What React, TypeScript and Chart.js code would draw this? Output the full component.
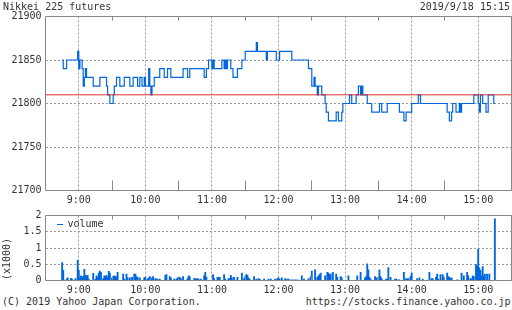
import { useEffect, useRef } from "react";
import { Chart, registerables } from "chart.js";

Chart.register(...registerables);

const FONT = '"DejaVu Sans Mono", monospace';
const TEXT_COLOR = "#333333";
const GRID_COLOR = "#999999";
const FRAME_COLOR = "#888888";
const LINE_COLOR = "#0066dd";
const PREV_COLOR = "#dd3333";

const TITLE = "Nikkei 225 futures";
const DATE_LABEL = "2019/9/18 15:15";
const COPYRIGHT = "(C) 2019 Yahoo Japan Corporation.";
const SITE_URL = "https://stocks.finance.yahoo.co.jp";
const VOLUME_UNIT = "(x1000)";
const VOLUME_LEGEND = "volume";

const X_MIN = "8:30";
const X_MAX = "15:30";
const HOUR_TICKS = ["9:00", "10:00", "11:00", "12:00", "13:00", "14:00", "15:00"];
const HALF_TICKS = ["9:30", "10:30", "11:30", "12:30", "13:30", "14:30"];
const PRICE_TICKS = [21700, 21750, 21800, 21850, 21900];
const VOLUME_TICKS = [0, 0.5, 1, 1.5, 2];
const PREV_CLOSE = 21810;

// price change points (value holds until the next time)
const priceTimes = [
  "8:45", "8:46", "8:49", "8:59", "9:00", "9:01", "9:03", "9:04", "9:05", "9:06",
  "9:07", "9:13", "9:19", "9:25", "9:26", "9:28", "9:31", "9:32", "9:34", "9:37",
  "9:41", "9:46", "9:49", "9:53", "9:55", "9:57", "9:59", "10:00", "10:03", "10:04",
  "10:05", "10:06", "10:08", "10:13", "10:17", "10:20", "10:23", "10:34", "10:38", "10:40",
  "10:53", "10:55", "10:57", "11:00", "11:01", "11:02", "11:09", "11:11", "11:12", "11:13",
  "11:14", "11:17", "11:19", "11:23", "11:27", "11:30", "11:40", "11:41", "11:49", "11:50",
  "11:58", "12:01", "12:12", "12:27", "12:30", "12:32", "12:33", "12:35", "12:36", "12:39",
  "12:42", "12:43", "12:45", "12:52", "12:54", "12:57", "12:58", "13:04", "13:06", "13:10",
  "13:12", "13:14", "13:15", "13:16", "13:20", "13:24", "13:31", "13:33", "13:38", "13:49",
  "13:53", "13:55", "14:00", "14:06", "14:08", "14:32", "14:34", "14:36", "14:37", "14:40",
  "14:43", "14:44", "14:45", "14:56", "15:00", "15:01", "15:02", "15:04", "15:07", "15:09",
  "15:14", "15:15",
];
const priceValues = [
  21850, 21840, 21850, 21860, 21840, 21850, 21840, 21820, 21830, 21840,
  21830, 21820, 21830, 21820, 21810, 21800, 21810, 21820, 21830, 21820,
  21830, 21820, 21830, 21820, 21830, 21820, 21830, 21820, 21840, 21820,
  21810, 21820, 21830, 21840, 21830, 21840, 21830, 21840, 21830, 21840,
  21830, 21840, 21850, 21840, 21850, 21840, 21850, 21840, 21850, 21840,
  21850, 21840, 21830, 21840, 21850, 21860, 21870, 21860, 21850, 21860,
  21850, 21860, 21850, 21840, 21820, 21830, 21820, 21810, 21820, 21810,
  21800, 21790, 21780, 21790, 21780, 21790, 21800, 21810, 21800, 21810,
  21820, 21810, 21820, 21810, 21800, 21790, 21800, 21790, 21800, 21790,
  21780, 21790, 21800, 21810, 21800, 21790, 21780, 21790, 21800, 21790,
  21800, 21790, 21800, 21810, 21800, 21790, 21810, 21800, 21790, 21810,
  21800, 21800,
];

// volume per minute (x1000), starting 8:45
const VOLUME_START = "8:45";
const volumes = [
  0.55, 0.31, 0, 0, 0.04, 0.08, 0, 0, 0.07, 0.04, 0, 0, 0.06, 0, 0.62,
  0.31, 0.08, 0.14, 0.1, 0.13, 0.34, 0.16, 0.14, 0.16, 0.04, 0, 0, 0, 0.22, 0,
  0.04, 0.14, 0.1, 0.23, 0.29, 0.25, 0, 0.06, 0.14, 0.12, 0.16, 0.1, 0.28, 0.23, 0,
  0.08, 0.12, 0.14, 0.12, 0.12, 0.25, 0, 0, 0, 0, 0.2, 0.04, 0, 0.2, 0.08,
  0, 0.08, 0, 0.1, 0, 0.2, 0.2, 0.12, 0.1, 0, 0.08, 0, 0, 0, 0.08,
  0.1, 0, 0.04, 0.08, 0.12, 0, 0.08, 0.12, 0, 0.06, 0.04, 0.04, 0, 0.04, 0,
  0, 0, 0, 0.16, 0.18, 0, 0, 0.12, 0.08, 0, 0, 0.04, 0, 0.04, 0.08,
  0.06, 0.1, 0.06, 0, 0.12, 0, 0, 0, 0.06, 0.14, 0.12, 0, 0, 0, 0.06,
  0.06, 0.04, 0.06, 0.04, 0, 0.04, 0, 0, 0.14, 0.25, 0.1, 0, 0, 0, 0,
  0, 0.18, 0.06, 0, 0, 0.1, 0.1, 0.1, 0, 0, 0, 0.18, 0.04, 0, 0,
  0.06, 0.06, 0.16, 0.08, 0, 0.1, 0, 0, 0.1, 0, 0, 0, 0.23, 0, 0.06,
  0.12, 0.18, 0.16, 0.08, 0.04, 0, 0, 0, 0.12, 0, 0.04, 0, 0.06, 0.04, 0,
  0, 0, 0.04, 0, 0, 0, 0.04, 0, 0.04, 0, 0, 0, 0.04, 0, 0.06,
  0.08, 0.04, 0, 0.08, 0, 0, 0.06, 0, 0.04, 0.04, 0, 0.02, 0, 0.02, 0,
  0.02, 0, 0.02, 0, 0, 0, 0.14, 0, 0.04, 0, 0, 0, 0.06, 0, 0.12,
  0.29, 0, 0, 0.33, 0, 0.1, 0.14, 0.18, 0.23, 0, 0, 0, 0.14, 0, 0.25,
  0.23, 0.18, 0.2, 0, 0.25, 0, 0, 0.2, 0.1, 0, 0, 0.12, 0.08, 0, 0,
  0, 0, 0, 0.14, 0, 0, 0, 0, 0, 0, 0, 0.14, 0, 0, 0.25,
  0, 0, 0, 0.08, 0.12, 0.51, 0.33, 0.1, 0.04, 0, 0, 0, 0.12, 0.08, 0,
  0.1, 0.33, 0.12, 0.06, 0, 0, 0, 0.04, 0.04, 0.4, 0, 0.1, 0, 0, 0,
  0.04, 0.04, 0, 0.02, 0.02, 0, 0, 0, 0.25, 0, 0.06, 0.04, 0.06, 0, 0.12,
  0.23, 0, 0, 0, 0, 0.06, 0, 0.08, 0, 0, 0.04, 0, 0, 0, 0,
  0, 0.25, 0, 0.06, 0.06, 0, 0, 0.1, 0.2, 0.04, 0, 0.18, 0, 0.18, 0.08,
  0, 0, 0.23, 0.12, 0.1, 0.06, 0.08, 0, 0, 0, 0, 0.02, 0, 0, 0,
  0.23, 0, 0.14, 0, 0, 0.25, 0.14, 0, 0.06, 0.04, 0.14, 0.12, 0, 0.49, 0.43,
  0.97, 0.39, 0.31, 0.14, 0.43, 0.14, 0.2, 0, 0.2, 0, 0.2, 0, 0, 0, 0,
  1.9,
];

const toMin = (s: string) => {
  const [h, m] = s.split(":").map(Number);
  return h * 60 + m;
};
const fmtMin = (v: number) => {
  const h = Math.floor(v / 60);
  const m = Math.round(v - h * 60);
  return `${h}:${m < 10 ? "0" : ""}${m}`;
};

const framePlugin = (topTick: number, bottomTick: number) => ({
  id: "frame",
  afterDraw(chart: any) {
    const { ctx, chartArea: a, scales } = chart;
    const al = (p: number) => Math.round(p - 0.5) + 0.5;
    ctx.save();
    ctx.strokeStyle = FRAME_COLOR;
    ctx.lineWidth = 1;
    ctx.setLineDash([]);
    ctx.beginPath();
    const l = al(a.left), r = al(a.right), t = al(a.top), b = al(a.bottom);
    ctx.rect(l, t, r - l, b - t);
    for (const h of HALF_TICKS) {
      const x = al(scales.x.getPixelForValue(toMin(h)));
      ctx.moveTo(x, t);
      ctx.lineTo(x, t + topTick);
      ctx.moveTo(x, b);
      ctx.lineTo(x, b - bottomTick);
    }
    ctx.stroke();
    ctx.restore();
  },
});

const tickFont = { family: FONT, size: 10 };

const xScale = (height: number) => ({
  type: "linear" as const,
  min: toMin(X_MIN),
  max: toMin(X_MAX),
  offset: false,
  afterBuildTicks: (s: any) => {
    s.ticks = HOUR_TICKS.map((t) => ({ value: toMin(t) }));
  },
  afterFit: (s: any) => {
    s.height = height;
    s.paddingLeft = 0;
    s.paddingRight = 0;
    s.paddingTop = 0;
    s.paddingBottom = 0;
  },
  ticks: {
    callback: (v: any) => fmtMin(Number(v)),
    font: tickFont,
    color: TEXT_COLOR,
    padding: 4,
    maxRotation: 0,
    autoSkip: false,
  },
  grid: { color: GRID_COLOR, lineWidth: 1, drawTicks: false, offset: false },
  border: { display: false, dash: [2, 2] },
});

const yScale = (min: number, max: number, ticks: number[], fmt: (v: number) => string) => ({
  min,
  max,
  afterBuildTicks: (s: any) => {
    s.ticks = ticks.map((v) => ({ value: v }));
  },
  afterFit: (s: any) => {
    s.width = 45.5;
    s.paddingLeft = 0;
    s.paddingRight = 0;
    s.paddingTop = 0;
    s.paddingBottom = 0;
  },
  ticks: {
    callback: (v: any) => fmt(Number(v)),
    font: tickFont,
    color: TEXT_COLOR,
    padding: 4,
    autoSkip: false,
  },
  grid: { color: GRID_COLOR, lineWidth: 1, drawTicks: false },
  border: { display: false, dash: [2, 2] },
});

export default function App() {
  const priceRef = useRef<HTMLCanvasElement>(null);
  const volRef = useRef<HTMLCanvasElement>(null);

  useEffect(() => {
    if (!priceRef.current || !volRef.current) return;
    const priceChart = new Chart(priceRef.current, {
      type: "line",
      data: {
        datasets: [
          {
            data: [
              { x: toMin(X_MIN), y: PREV_CLOSE },
              { x: toMin(X_MAX), y: PREV_CLOSE },
            ],
            borderColor: PREV_COLOR,
            borderWidth: 1,
            pointRadius: 0,
          },
          {
            data: priceTimes.map((t, i) => ({ x: toMin(t), y: priceValues[i] })),
            borderColor: LINE_COLOR,
            borderWidth: 1.2,
            pointRadius: 0,
            stepped: true,
          },
        ],
      },
      options: {
        animation: false,
        responsive: false,
        devicePixelRatio: 1,
        events: [],
        layout: { padding: { top: 16.5, right: 0.5, left: 0, bottom: 0 } },
        plugins: { legend: { display: false }, tooltip: { enabled: false } },
        scales: {
          x: xScale(19.5) as any,
          y: yScale(21700, 21900, PRICE_TICKS, (v) => String(v)) as any,
        },
      },
      plugins: [framePlugin(4, 10)],
    });

    const start = toMin(VOLUME_START);
    const volChart = new Chart(volRef.current, {
      type: "bar",
      data: {
        datasets: [
          {
            data: volumes.map((v, i) => ({ x: start + i, y: v })),
            backgroundColor: LINE_COLOR,
            borderWidth: 0,
            barThickness: 1.2,
          },
        ],
      },
      options: {
        animation: false,
        responsive: false,
        devicePixelRatio: 1,
        events: [],
        layout: { padding: { top: 5.5, right: 0.5, left: 0, bottom: 0 } },
        plugins: { legend: { display: false }, tooltip: { enabled: false } },
        scales: {
          x: xScale(15.5) as any,
          y: yScale(0, 2, VOLUME_TICKS, (v) => String(v)) as any,
        },
      },
      plugins: [framePlugin(4, 4)],
    });

    return () => {
      priceChart.destroy();
      volChart.destroy();
    };
  }, []);

  const text: React.CSSProperties = {
    position: "absolute",
    fontFamily: FONT,
    fontSize: 10,
    lineHeight: "12px",
    color: TEXT_COLOR,
    whiteSpace: "nowrap",
  };

  return (
    <div
      style={{
        position: "absolute",
        left: 0,
        top: 0,
        width: 512,
        height: 310,
        background: "#ffffff",
        overflow: "hidden",
      }}
    >
      <canvas
        ref={priceRef}
        width={512}
        height={210}
        style={{ position: "absolute", left: 0, top: 0, width: 512, height: 210 }}
      />
      <canvas
        ref={volRef}
        width={512}
        height={86}
        style={{ position: "absolute", left: 0, top: 210, width: 512, height: 86 }}
      />
      <div style={{ ...text, left: 3, top: 1 }}>{TITLE}</div>
      <div style={{ ...text, right: 2, top: 1 }}>{DATE_LABEL}</div>
      <div style={{ ...text, left: 2, top: 295.5 }}>{COPYRIGHT}</div>
      <div style={{ ...text, right: 1.5, top: 295.5 }}>{SITE_URL}</div>
      <div
        style={{
          ...text,
          left: 6.5,
          top: 259,
          transform: "translate(-50%, -50%) rotate(-90deg)",
        }}
      >
        {VOLUME_UNIT}
      </div>
      <div
        style={{
          position: "absolute",
          left: 57,
          top: 223.5,
          width: 6,
          height: 1,
          background: LINE_COLOR,
        }}
      />
      <div style={{ ...text, left: 67.5, top: 218 }}>{VOLUME_LEGEND}</div>
    </div>
  );
}
